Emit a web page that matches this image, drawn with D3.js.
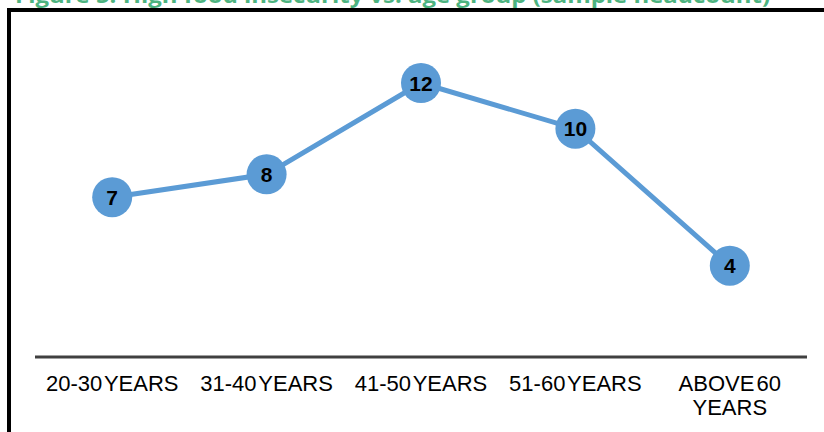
<!DOCTYPE html>
<html>
<head>
<meta charset="utf-8">
<script src="https://cdn.jsdelivr.net/npm/d3@7"></script>
<style>
  html, body { margin: 0; padding: 0; background: #fff; }
  svg { display: block; }
</style>
</head>
<body>
<svg id="chart" width="824" height="432"></svg>
<script>
// Age groups (a label may wrap onto two lines) and sample headcount per group
const categories = ["20-30 YEARS", "31-40 YEARS", "41-50 YEARS", "51-60 YEARS", "ABOVE 60 YEARS"];
const categoryLines = [["20-30 YEARS"], ["31-40 YEARS"], ["41-50 YEARS"], ["51-60 YEARS"], ["ABOVE 60", "YEARS"]];
const headcount = [7, 8, 12, 10, 4];
const title = "Figure 5: High food insecurity vs. age group (sample headcount)";

const svg = d3.select("#chart");
const W = 824, H = 432;

// Caption above the framed chart
svg.append("text")
  .attr("x", 15)
  .attr("y", 3)
  .attr("font-family", "'Open Sans', 'DejaVu Sans', sans-serif")
  .attr("font-weight", "bold")
  .attr("font-size", 21)
  .attr("fill", "#4db380")
  .attr("textLength", 755)
  .attr("lengthAdjust", "spacingAndGlyphs")
  .text(title);

// Chart frame
svg.append("rect")
  .attr("x", 9)
  .attr("y", 10)
  .attr("width", W + 20)
  .attr("height", H + 20)
  .attr("fill", "none")
  .attr("stroke", "#000")
  .attr("stroke-width", 4);

const x = d3.scalePoint()
  .domain(categories)
  .range([35, 807])
  .padding(0.5);

const y = d3.scaleLinear()
  .domain([0, 12])
  .range([357, 83]);

// Category axis: baseline plus (possibly wrapped) labels
const axis = svg.append("g")
  .attr("transform", `translate(0,${y(0)})`)
  .call(d3.axisBottom(x).tickSize(0).tickFormat(""));
axis.select(".domain")
  .attr("stroke", "#404040")
  .attr("stroke-width", 3)
  .attr("d", `M35,0H807`);

const labels = svg.append("g")
  .attr("font-family", "'Liberation Sans', Arial, sans-serif")
  .attr("font-size", 22)
  .attr("fill", "#000")
  .attr("text-anchor", "middle");
categories.forEach((c, i) => {
  const t = labels.append("text")
    .attr("x", x(c))
    .attr("y", 391);
  categoryLines[i].forEach((line, j) => {
    t.append("tspan")
      .attr("x", x(c))
      .attr("dy", j === 0 ? 0 : 24)
      .attr("word-spacing", -4)
      .text(line);
  });
});

// Series line
const line = d3.line()
  .x((d, i) => x(categories[i]))
  .y(d => y(d));

svg.append("path")
  .datum(headcount)
  .attr("d", line)
  .attr("fill", "none")
  .attr("stroke", "#5b9bd5")
  .attr("stroke-width", 5);

// Markers with value labels
const pts = svg.append("g")
  .selectAll("g")
  .data(headcount)
  .join("g")
  .attr("transform", (d, i) => `translate(${x(categories[i])},${y(d)})`);

pts.append("circle")
  .attr("r", 20)
  .attr("fill", "#5b9bd5");

pts.append("text")
  .attr("text-anchor", "middle")
  .attr("dy", "0.36em")
  .attr("font-family", "'Liberation Sans', Arial, sans-serif")
  .attr("font-weight", "bold")
  .attr("font-size", 21)
  .attr("fill", "#000")
  .text(d => d);
</script>
</body>
</html>
